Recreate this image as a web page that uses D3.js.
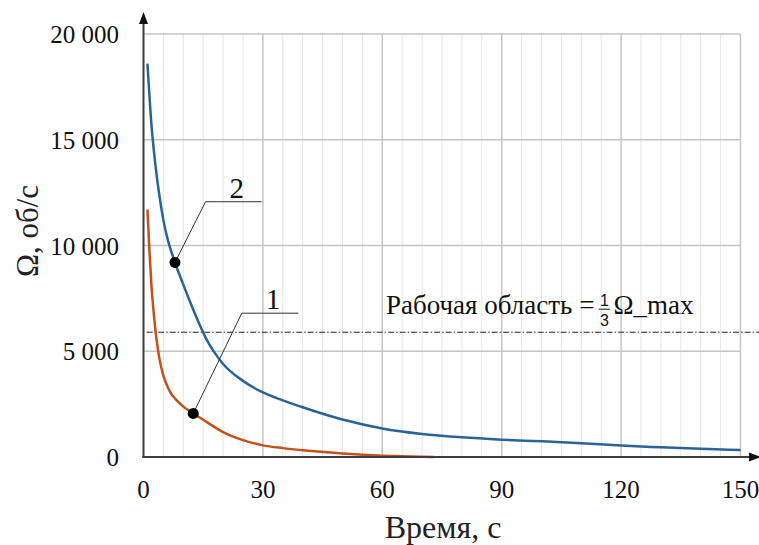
<!DOCTYPE html>
<html>
<head>
<meta charset="utf-8">
<script src="https://cdn.jsdelivr.net/npm/d3@7"></script>
<style>
  html, body { margin: 0; padding: 0; background: #fff; }
  svg { display: block; }
</style>
</head>
<body>
<svg id="chart" width="759" height="545"></svg>
<script>
// ---- data ----
const blueT = [1, 2, 3, 4, 5, 6, 7, 8, 10, 12, 14, 16, 18, 20, 25, 30, 35, 40, 50, 60, 70, 80, 90, 100, 110, 120, 130, 140, 150];
const blueV = [18600, 15700, 13800, 12350, 11200, 10350, 9700, 9150, 8150, 7200, 6300, 5500, 4900, 4400, 3600, 3050, 2680, 2350, 1770, 1350, 1090, 930, 820, 740, 650, 540, 460, 390, 330];
const orangeT = [1, 1.5, 2, 2.5, 3, 3.5, 4, 5, 6, 7, 8, 10, 12.5, 15, 20, 25, 30, 35, 40, 50, 60, 67, 73];
const orangeV = [11700, 9700, 8100, 6950, 6000, 5250, 4650, 3850, 3350, 2980, 2750, 2380, 2060, 1760, 1180, 800, 550, 420, 320, 170, 65, 20, 0];
const xTicks = [0, 30, 60, 90, 120, 150];
const yTicks = [0, 5000, 10000, 15000, 20000];
const xTitle = "Время, с";
const yTitle = "Ω, об/с";
const workLabel = "Рабочая область =";
const workValue = 5900;
const markerLabels = ["2", "1"];
const markerT = [7.9, 12.5];
const markerV = [9200, 2060];

// ---- drawing ----
const SERIF = "Liberation Serif";
const SANS = "Liberation Sans";
const svg = d3.select("#chart");
const x = d3.scaleLinear().domain([0, 150]).range([143.5, 740.5]);
const y = d3.scaleLinear().domain([0, 20000]).range([457, 34]);

// minor vertical grid every 5
const minor = d3.range(5, 150, 5).filter(d => d % 30 !== 0);
svg.append("g").selectAll("line").data(minor).join("line")
  .attr("x1", d => x(d)).attr("x2", d => x(d))
  .attr("y1", y(20000)).attr("y2", y(0))
  .attr("stroke", "#e6e6e6").attr("stroke-width", 1);

// major grid
svg.append("g").selectAll("line").data(xTicks.filter(d => d > 0)).join("line")
  .attr("x1", d => x(d)).attr("x2", d => x(d))
  .attr("y1", y(20000)).attr("y2", y(0))
  .attr("stroke", "#c4c4c4").attr("stroke-width", 1.5);
svg.append("g").selectAll("line").data(yTicks.filter(d => d > 0)).join("line")
  .attr("x1", x(0)).attr("x2", x(150))
  .attr("y1", d => y(d)).attr("y2", d => y(d))
  .attr("stroke", "#c4c4c4").attr("stroke-width", 1.5);

// working-area dash-dot line
svg.append("line")
  .attr("x1", x(0.8)).attr("x2", 759)
  .attr("y1", y(workValue)).attr("y2", y(workValue))
  .attr("stroke", "#222").attr("stroke-width", 1)
  .attr("stroke-dasharray", "6,2,1.5,2");

// curves
const line = d3.line().x(d => x(d[0])).y(d => y(d[1])).curve(d3.curveMonotoneX);
svg.append("path").datum(orangeT.map((t, i) => [t, orangeV[i]]))
  .attr("d", line).attr("fill", "none")
  .attr("stroke", "#c4501c").attr("stroke-width", 2.5);
svg.append("path").datum(blueT.map((t, i) => [t, blueV[i]]))
  .attr("d", line).attr("fill", "none")
  .attr("stroke", "#2a6497").attr("stroke-width", 2.5);

// axes with arrows
const axisColor = "#3c3c3c";
svg.append("line").attr("x1", x(0)).attr("x2", x(0)).attr("y1", y(0) + 1).attr("y2", 22)
  .attr("stroke", axisColor).attr("stroke-width", 2);
svg.append("path").attr("d", `M${x(0)},12 L${x(0) - 4.5},24 L${x(0) + 4.5},24 Z`).attr("fill", "#111");
svg.append("line").attr("x1", x(0) - 1).attr("x2", 750).attr("y1", y(0)).attr("y2", y(0))
  .attr("stroke", axisColor).attr("stroke-width", 2);
svg.append("path").attr("d", `M761,${y(0)} L749,${y(0) - 4.5} L749,${y(0) + 4.5} Z`).attr("fill", "#111");

// tick labels
const fmt = v => d3.format(",")(v).replace(/,/g, " ");
svg.append("g").selectAll("text").data(yTicks).join("text")
  .attr("x", 119).attr("y", d => y(d) + 9)
  .attr("text-anchor", "end")
  .attr("font-family", SERIF).attr("font-size", 25).attr("fill", "#111")
  .text(fmt);
svg.append("g").selectAll("text").data(xTicks).join("text")
  .attr("x", d => x(d)).attr("y", 498)
  .attr("text-anchor", "middle")
  .attr("font-family", SERIF).attr("font-size", 25).attr("fill", "#111")
  .text(d => d);

// axis titles
svg.append("text").attr("x", 443).attr("y", 538)
  .attr("text-anchor", "middle")
  .attr("font-family", SERIF).attr("font-size", 32).attr("fill", "#222")
  .text(xTitle);
svg.append("text").attr("transform", "translate(38,231) rotate(-90)")
  .attr("text-anchor", "middle")
  .attr("font-family", SERIF).attr("font-size", 31).attr("fill", "#222")
  .text(yTitle);

// working-area label
const base = y(workValue) - 18;
const wl = svg.append("text").attr("x", 386).attr("y", base)
  .attr("font-family", SERIF).attr("font-size", 27).attr("fill", "#111")
  .text(workLabel);
const fx = 386 + wl.node().getComputedTextLength() + 10;
svg.append("text").attr("x", fx).attr("y", base - 8)
  .attr("text-anchor", "middle")
  .attr("font-family", SANS).attr("font-size", 16).attr("fill", "#111")
  .text("1");
svg.append("line").attr("x1", fx - 5.5).attr("x2", fx + 5.5)
  .attr("y1", base - 5).attr("y2", base - 5)
  .attr("stroke", "#111").attr("stroke-width", 1);
svg.append("text").attr("x", fx).attr("y", base + 12)
  .attr("text-anchor", "middle")
  .attr("font-family", SANS).attr("font-size", 16).attr("fill", "#111")
  .text("3");
svg.append("text").attr("x", fx + 9).attr("y", base)
  .attr("font-family", SERIF).attr("font-size", 27).attr("fill", "#111")
  .text("Ω_max");

// curve markers with leaders
const elbowT = [15.6, 24.7];
const elbowV = [12070, 6800];
const shelfEndT = [29.7, 38.9];
markerLabels.forEach((lab, i) => {
  const px = x(markerT[i]), py = y(markerV[i]);
  const ex = x(elbowT[i]), ey = y(elbowV[i]);
  const sx = x(shelfEndT[i]);
  svg.append("path")
    .attr("d", `M${px},${py} L${ex},${ey} L${sx},${ey}`)
    .attr("fill", "none").attr("stroke", "#333").attr("stroke-width", 1);
  svg.append("circle").attr("cx", px).attr("cy", py).attr("r", 5.5).attr("fill", "#000");
  svg.append("text").attr("x", (ex + sx) / 2 + 3).attr("y", ey - 4)
    .attr("text-anchor", "middle")
    .attr("font-family", SERIF).attr("font-size", 29).attr("fill", "#111")
    .text(lab);
});
</script>
</body>
</html>
